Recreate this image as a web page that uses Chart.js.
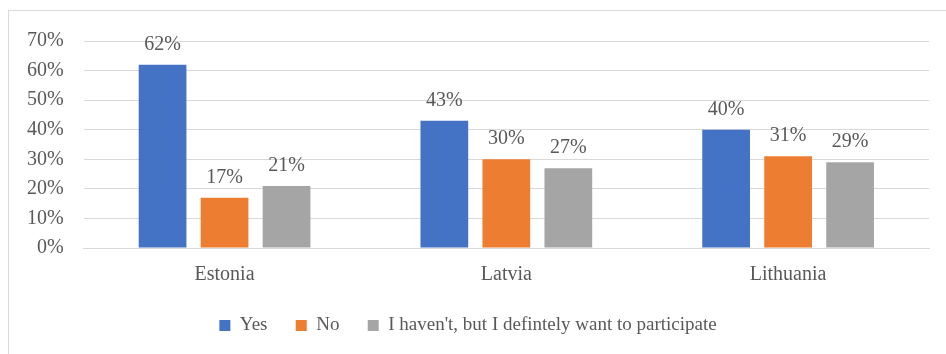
<!DOCTYPE html>
<html>
<head>
<meta charset="utf-8">
<script src="https://cdn.jsdelivr.net/npm/chart.js@4/dist/chart.umd.min.js"></script>
<style>
  html, body { margin: 0; padding: 0; background: #fff; }
  #wrap { position: relative; width: 946px; height: 354px; }
</style>
</head>
<body>
<div id="wrap"><canvas id="chart"></canvas></div>
<script>
const countries = ['Estonia', 'Latvia', 'Lithuania']
const yesValues = [62, 43, 40]
const noValues = [17, 30, 31]
const wantValues = [21, 27, 29]
const seriesNames = ['Yes', 'No', "I haven't, but I defintely want to participate"]
const seriesColors = ['#4472C4', '#ED7D31', '#A5A5A5']

const textColor = '#595959'
const fontFamily = '"Liberation Serif", "Times New Roman", serif'

// outer frame like the exported office chart
const framePlugin = {
    id: 'frame',
    beforeDraw(chart) {
        let ctx = chart.ctx
        ctx.save()
        ctx.strokeStyle = '#D9D9D9'
        ctx.lineWidth = 1
        ctx.strokeRect(8.5, 10.5, 960, 360)
        ctx.restore()
    }
}

// value labels above every bar
const valueLabels = {
    id: 'valueLabels',
    afterDatasetsDraw(chart) {
        let ctx = chart.ctx
        ctx.save()
        ctx.fillStyle = textColor
        ctx.font = '20px ' + fontFamily
        ctx.textAlign = 'center'
        ctx.textBaseline = 'alphabetic'
        chart.data.datasets.forEach((ds, i) => {
            chart.getDatasetMeta(i).data.forEach((bar, j) => {
                ctx.fillText(ds.data[j] + '%', bar.x, bar.y - 15)
            })
        })
        ctx.restore()
    }
}

const data = {
    labels: countries,
    datasets: [
        { label: seriesNames[0], data: yesValues, backgroundColor: seriesColors[0] },
        { label: seriesNames[1], data: noValues, backgroundColor: seriesColors[1] },
        { label: seriesNames[2], data: wantValues, backgroundColor: seriesColors[2] }
    ]
}

const config = {
    type: 'bar',
    data: data,
    options: {
        responsive: true,
        maintainAspectRatio: false,
        animation: false,
        datasets: {
            bar: { categoryPercentage: 0.66, barPercentage: 0.77 }
        },
        layout: { padding: { left: 7, right: 17, top: 41, bottom: 9 } },
        scales: {
            x: {
                grid: { display: false, drawTicks: false },
                border: { display: true, color: '#D9D9D9' },
                ticks: { color: textColor, font: { family: fontFamily, size: 20 }, padding: 15 }
            },
            y: {
                min: 0,
                max: 70,
                grid: { color: '#D9D9D9', drawTicks: false },
                border: { display: false },
                ticks: {
                    stepSize: 10,
                    padding: 20,
                    color: textColor,
                    font: { family: fontFamily, size: 20 },
                    callback: v => v + '%'
                }
            }
        },
        plugins: {
            tooltip: { enabled: false },
            legend: {
                position: 'bottom',
                labels: {
                    color: textColor,
                    font: { family: fontFamily, size: 19 },
                    boxWidth: 11,
                    boxHeight: 11,
                    padding: 14,
                    generateLabels(chart) {
                        let items = Chart.defaults.plugins.legend.labels.generateLabels(chart)
                        items.forEach((it, i) => {
                            if (i < items.length - 1) it.text = it.text + '   '
                        })
                        return items
                    }
                }
            }
        }
    },
    plugins: [framePlugin, valueLabels]
}

let ctx = document.getElementById('chart').getContext('2d')
new Chart(ctx, config)
</script>
</body>
</html>
